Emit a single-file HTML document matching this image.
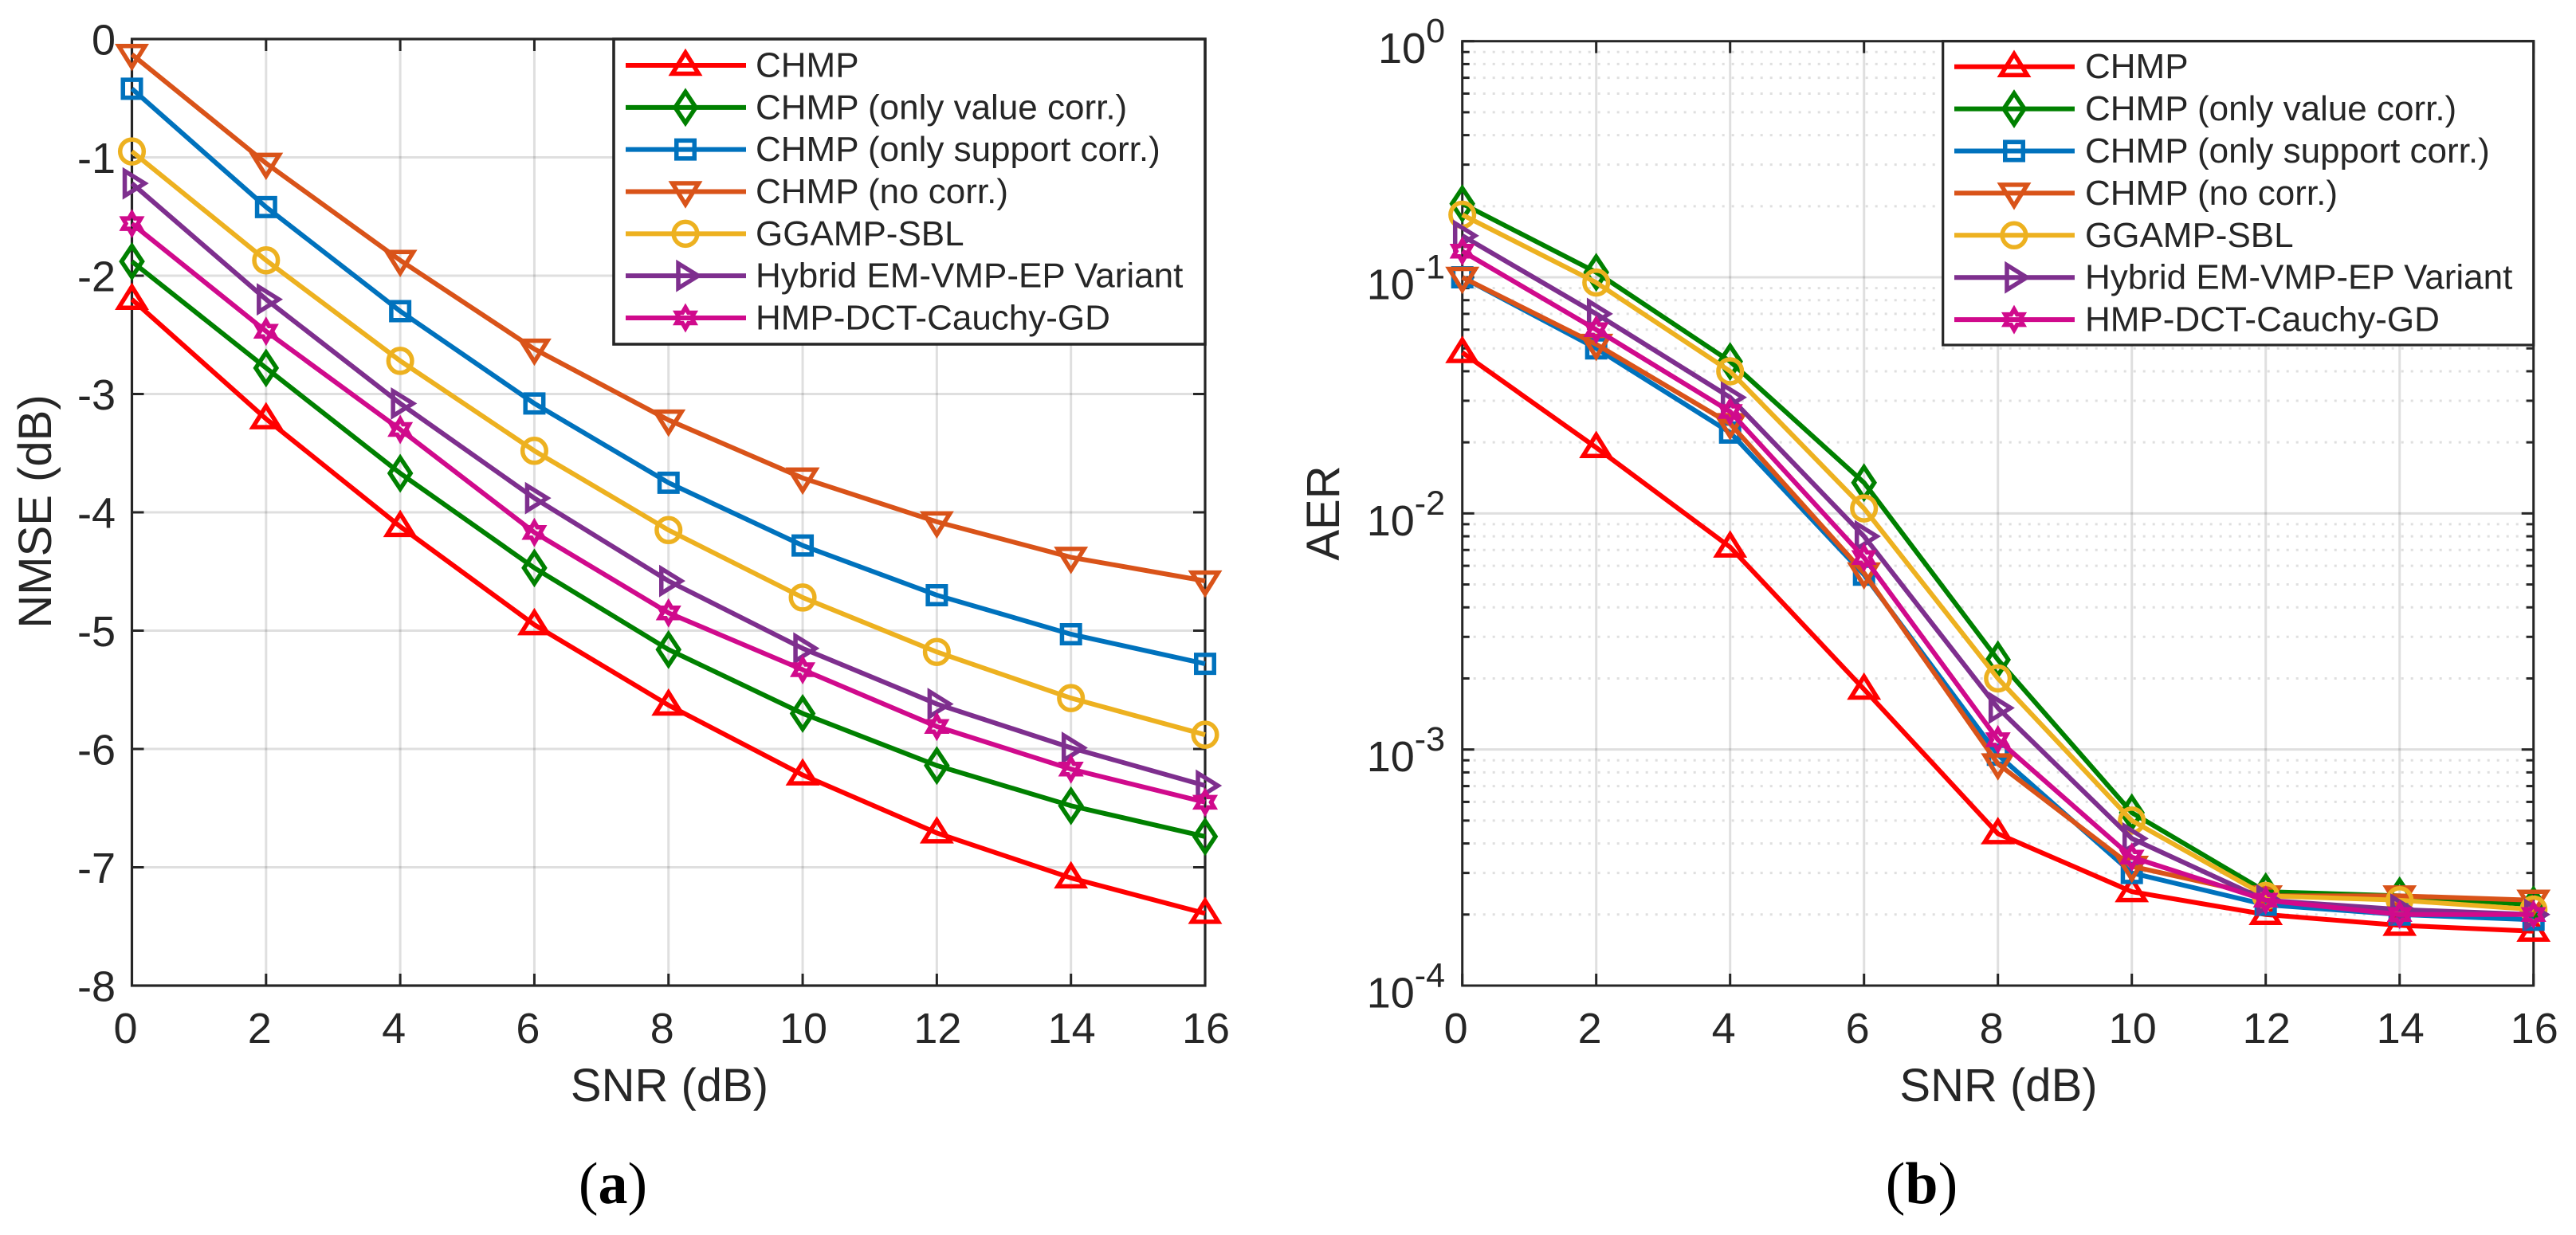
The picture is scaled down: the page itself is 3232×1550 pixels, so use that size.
<!DOCTYPE html>
<html lang="en">
<head>
<meta charset="utf-8">
<title>NMSE and AER versus SNR</title>
<style>
html,body{margin:0;padding:0;background:#fff;}
svg{display:block;}
text{font-family:"Liberation Sans",sans-serif;fill:#262626;}
.cap{font-family:"Liberation Serif",serif;fill:#000;}
</style>
</head>
<body>
<svg id="figure" xmlns="http://www.w3.org/2000/svg" width="3232" height="1550" viewBox="0 0 3232 1550">
  <rect x="0" y="0" width="3232" height="1550" fill="#fff"/>
  <g id="panel-a"></g>
  <g id="panel-b"></g>
  <text x="840" y="1382" font-size="58" text-anchor="middle">SNR (dB)</text>
  <text x="2507.5" y="1382" font-size="58" text-anchor="middle">SNR (dB)</text>
  <text transform="translate(64,642) rotate(-90)" font-size="58" text-anchor="middle">NMSE (dB)</text>
  <text transform="translate(1680,644) rotate(-90)" font-size="58" text-anchor="middle">AER</text>
  <text class="cap" x="769" y="1510" font-size="74" text-anchor="middle">(<tspan font-weight="bold">a</tspan>)</text>
  <text class="cap" x="2411" y="1510" font-size="74" text-anchor="middle">(<tspan font-weight="bold">b</tspan>)</text>
</svg>
<script>
// ---- shared categories and labels ----
const snrValues = [0, 2, 4, 6, 8, 10, 12, 14, 16];
const seriesLabels = ["CHMP", "CHMP (only value corr.)", "CHMP (only support corr.)", "CHMP (no corr.)", "GGAMP-SBL", "Hybrid EM-VMP-EP Variant", "HMP-DCT-Cauchy-GD"];
const seriesColors = ["#ff0000", "#008000", "#0072bd", "#d95319", "#edb120", "#7e2f8e", "#d00a8c"];
const seriesMarkers = ["up", "diamond", "square", "down", "circle", "right", "hexagram"];
const seriesNames = ["chmp", "chmp-value", "chmp-support", "chmp-no-corr", "ggamp-sbl", "hybrid-em-vmp-ep", "hmp-dct-cauchy"];

// ---- panel (a): NMSE in dB ----
const nmseChmp    = [-2.20, -3.21, -4.12, -4.95, -5.63, -6.22, -6.71, -7.09, -7.39];
const nmseValue   = [-1.88, -2.78, -3.67, -4.47, -5.16, -5.70, -6.14, -6.48, -6.74];
const nmseSupport = [-0.42, -1.42, -2.30, -3.08, -3.75, -4.28, -4.70, -5.03, -5.28];
const nmseNoCorr  = [-0.13, -1.05, -1.87, -2.62, -3.22, -3.71, -4.08, -4.38, -4.58];
const nmseGgamp   = [-0.95, -1.87, -2.72, -3.48, -4.15, -4.72, -5.18, -5.57, -5.88];
const nmseHybrid  = [-1.22, -2.20, -3.08, -3.88, -4.58, -5.15, -5.62, -5.99, -6.31];
const nmseHmp     = [-1.56, -2.47, -3.30, -4.17, -4.85, -5.33, -5.81, -6.17, -6.45];
const nmseTicks   = [0, -1, -2, -3, -4, -5, -6, -7, -8];

// ---- panel (b): AER ----
const aerChmp    = [0.048, 0.019, 0.0072, 0.0018, 0.00044, 0.00025, 0.00020, 0.00018, 0.00017];
const aerValue   = [0.205, 0.105, 0.044, 0.0135, 0.0024, 0.00054, 0.00025, 0.00024, 0.00022];
const aerSupport = [0.100, 0.050, 0.022, 0.0055, 0.00095, 0.00030, 0.00022, 0.00020, 0.00019];
const aerNoCorr  = [0.100, 0.052, 0.024, 0.0056, 0.00087, 0.00032, 0.00024, 0.00024, 0.00023];
const aerGgamp   = [0.184, 0.095, 0.040, 0.0105, 0.0020, 0.00050, 0.00024, 0.00023, 0.00021];
const aerHybrid  = [0.150, 0.070, 0.031, 0.0080, 0.0015, 0.00042, 0.00023, 0.00021, 0.00020];
const aerHmp     = [0.129, 0.060, 0.027, 0.0065, 0.0011, 0.00035, 0.00023, 0.00020, 0.00020];
const aerDecadeTicks = [0, -1, -2, -3, -4];
const aerMinorFactors = [2, 3, 4, 5, 6, 7, 8, 9];

const nmseSeries = [nmseChmp, nmseValue, nmseSupport, nmseNoCorr, nmseGgamp, nmseHybrid, nmseHmp];
const aerSeries = [aerChmp, aerValue, aerSupport, aerNoCorr, aerGgamp, aerHybrid, aerHmp];

const NS = "http://www.w3.org/2000/svg";
const AXIS = "#262626";
const GRID = "rgba(38,38,38,0.15)";

function make(parent, tag, props, content) {
  const el = document.createElementNS(NS, tag);
  for (const k in props) el.setAttribute(k, props[k]);
  if (content !== undefined) el.textContent = content;
  parent.appendChild(el);
  return el;
}

function line(parent, x1, y1, x2, y2, stroke, width, dash, offset) {
  const props = {x1: x1, y1: y1, x2: x2, y2: y2, stroke: stroke, "stroke-width": width};
  if (dash) { props["stroke-dasharray"] = dash; props["stroke-dashoffset"] = offset || 0; }
  return make(parent, "line", props);
}

function markerPath(type, x, y) {
  const P = pts => "M" + pts.map(p => (x + p[0]).toFixed(2) + " " + (y + p[1]).toFixed(2)).join("L") + "Z";
  if (type === "up") return P([[0, -16], [16.5, 10.5], [-16.5, 10.5]]);
  if (type === "down") return P([[0, 16], [16.5, -10.5], [-16.5, -10.5]]);
  if (type === "right") return P([[16, 0], [-9, 15.5], [-9, -15.5]]);
  if (type === "diamond") return P([[0, -19.5], [13, 0], [0, 19.5], [-13, 0]]);
  if (type === "square") return P([[-11.25, -11.25], [11.25, -11.25], [11.25, 11.25], [-11.25, 11.25]]);
  if (type === "hexagram") {
    const pts = [];
    for (let i = 0; i < 12; i++) {
      const r = i % 2 === 0 ? 13 : 7.5;
      const a = -Math.PI / 2 + i * Math.PI / 6;
      pts.push([r * Math.cos(a), r * Math.sin(a)]);
    }
    return P(pts);
  }
  return "";
}

function drawMarker(parent, type, x, y, color) {
  if (type === "circle") {
    return make(parent, "ellipse", {cx: x, cy: y, rx: 14.8, ry: 15, fill: "none", stroke: color, "stroke-width": 5.5});
  }
  return make(parent, "path", {d: markerPath(type, x, y), fill: "none", stroke: color, "stroke-width": 5.5, "stroke-linejoin": "miter", "stroke-miterlimit": 6});
}

function drawSeries(root, cfg) {
  cfg.series.forEach((vals, s) => {
    const g = make(root, "g", {});
    
    
    const pts = snrValues.map((v, i) => cfg.xs(v).toFixed(2) + "," + cfg.ys(vals[i]).toFixed(2)).join(" ");
    const path = make(g, "polyline", {points: pts, fill: "none", stroke: seriesColors[s], "stroke-width": 6, "stroke-linejoin": "miter"});
    
    
    snrValues.forEach((v, i) => {
      const m = drawMarker(g, seriesMarkers[s], cfg.xs(v), cfg.ys(vals[i]), seriesColors[s]);
      
      
    });
  });
}

function drawFrame(root, cfg) {
  const gr = make(root, "g", {});
  
  
  snrValues.forEach(v => { if (v > 0 && v < 16) line(gr, cfg.xs(v), cfg.top, cfg.xs(v), cfg.bottom, GRID, 3); });
  cfg.majorY.forEach(y => { if (y > cfg.top + 1 && y < cfg.bottom - 1) line(gr, cfg.left, y, cfg.right, y, GRID, 3); });
  cfg.minorY.forEach(y => line(gr, cfg.left + 14, y, cfg.right, y, GRID, 3, "3 9", 0));

  const ax = make(root, "g", {});
  
  
  make(ax, "rect", {x: cfg.left, y: cfg.top, width: cfg.right - cfg.left, height: cfg.bottom - cfg.top, fill: "none", stroke: AXIS, "stroke-width": cfg.frame});
  snrValues.forEach(v => {
    const x = cfg.xs(v);
    line(ax, x, cfg.bottom, x, cfg.bottom - 15, AXIS, 3);
    line(ax, x, cfg.top, x, cfg.top + 15, AXIS, 3);
  });
  cfg.majorY.forEach(y => {
    line(ax, cfg.left, y, cfg.left + 15, y, AXIS, 3);
    line(ax, cfg.right, y, cfg.right - 15, y, AXIS, 3);
  });
  cfg.minorY.forEach(y => {
    line(ax, cfg.left, y, cfg.left + 9, y, AXIS, 3);
    line(ax, cfg.right, y, cfg.right - 9, y, AXIS, 3);
  });

  const xl = make(root, "g", {});
  
  
  snrValues.forEach(v => {
    const label = String(v);
    const dx = label.length === 1 ? -8 : 1;
    const t = make(xl, "text", {x: cfg.xs(v) + dx, y: 1309, "font-size": 54, "text-anchor": "middle"}, label);
    
    
  });
}

function drawLegend(root, cfg) {
  const g = make(root, "g", {});
  
  
  make(g, "rect", {x: cfg.legLeft, y: cfg.top, width: cfg.right - cfg.legLeft, height: cfg.legBottom - cfg.top, fill: "#fff", stroke: AXIS, "stroke-width": cfg.legFrame});
  seriesLabels.forEach((label, s) => {
    const y = cfg.legRow0 + s * cfg.legStep;
    const e = make(g, "g", {});
    
    
    line(e, cfg.legLine0, y, cfg.legLine0 + 151, y, seriesColors[s], 6);
    drawMarker(e, seriesMarkers[s], cfg.legLine0 + 75, y, seriesColors[s]);
    make(e, "text", {x: cfg.legText, y: y + 14.5, "font-size": 44}, label);
  });
}

// ---- panel (a) ----
(function () {
  const root = document.getElementById("panel-a");
  const left = 165.5, right = 1512, top = 49, bottom = 1237;
  const xs = v => left + (v - 0) / 16 * (right - left);
  const ys = v => top + (0 - v) / 8 * (bottom - top);
  const cfg = {left, right, top, bottom, xs, ys, series: nmseSeries,
    majorY: nmseTicks.map(ys), minorY: [], frame: 3.2,
    legLeft: 770, legBottom: 432, legFrame: 3.6, legRow0: 82, legStep: 52.83, legLine0: 785, legText: 948};
  drawFrame(root, cfg);
  const yl = make(root, "g", {});
  
  
  nmseTicks.forEach(v => {
    const t = make(yl, "text", {x: 145, y: ys(v) + 19.5, "font-size": 54, "text-anchor": "end"}, String(v));
    
    
  });
  drawSeries(root, cfg);
  drawLegend(root, cfg);
})();

// ---- panel (b) ----
(function () {
  const root = document.getElementById("panel-b");
  const left = 1834.7, right = 3178.7, top = 51.7, bottom = 1237;
  const xs = v => left + (v - 0) / 16 * (right - left);
  const ys = v => top + (0 - Math.log10(v)) / 4 * (bottom - top);
  const minor = [];
  aerDecadeTicks.slice(1).forEach(e => aerMinorFactors.forEach(f => minor.push(ys(f * Math.pow(10, e)))));
  const cfg = {left, right, top, bottom, xs, ys, series: aerSeries,
    majorY: aerDecadeTicks.map(e => ys(Math.pow(10, e))), minorY: minor, frame: 3,
    legLeft: 2437.7, legBottom: 433, legFrame: 3.2, legRow0: 83.7, legStep: 52.9, legLine0: 2452, legText: 2616};
  drawFrame(root, cfg);
  const yl = make(root, "g", {});
  
  
  aerDecadeTicks.forEach(e => {
    const y = ys(Math.pow(10, e));
    const t = make(yl, "text", {x: 1813, y: y + 27.5, "font-size": 54, "text-anchor": "end"});
    
    
    make(t, "tspan", {}, "10");
    make(t, "tspan", {"font-size": 43, dy: -26}, String(e));
  });
  drawSeries(root, cfg);
  drawLegend(root, cfg);
})();
</script>
</body>
</html>
